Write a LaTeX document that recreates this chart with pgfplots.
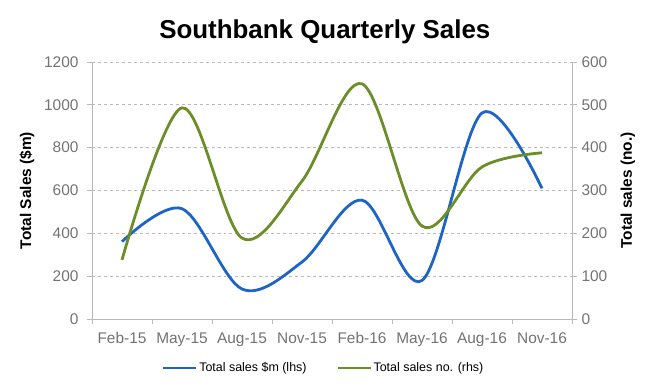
\documentclass[border=0pt]{standalone}
\usepackage{pgfplots}
\pgfplotsset{compat=1.18}
\usepackage{fontspec}
\setmainfont{Liberation Sans}
\definecolor{lblue}{RGB}{30,100,196}
\definecolor{lgreen}{RGB}{108,142,40}
\definecolor{axgray}{RGB}{185,185,185}
\definecolor{txtgray}{RGB}{115,115,115}
\begin{document}
\begin{tikzpicture}
\path[use as bounding box] (-92bp,-73bp) rectangle (558bp,319bp);
\pgfplotsset{
  every axis/.append style={
    scale only axis, width=480bp, height=257bp,
    at={(0,0)}, anchor=south west,
    xmin=-0.5, xmax=7.5,
    /pgf/number format/assume math mode=true,
    /pgf/number format/1000 sep={},
    tick label style={font=\fontsize{15.5}{18}\selectfont, text=txtgray},
    label style={font=\bfseries\fontsize{15.5}{18}\selectfont},
    axis line style={axgray, line width=0.8pt},
    tick style={axgray, line width=0.8pt},
    tick align=outside,
  }
}
\begin{axis}[
  axis x line*=bottom, axis y line*=left,
  ymin=0, ymax=1200, ytick={0,200,...,1200},
  ymajorgrids, grid style={axgray, dashed, line width=0.7pt},
  xtick={0,...,7},
  xticklabels={Feb-15,May-15,Aug-15,Nov-15,Feb-16,May-16,Aug-16,Nov-16},
  major x tick style={draw=none},
  minor xtick={-0.5,0.5,...,7.5},
  minor tick length=5bp,
  major tick length=5bp,
  xticklabel style={yshift=-5bp},
  yticklabel style={xshift=-5bp},
  ylabel={Total Sales (\$m)},
  ylabel style={at={(rel axis cs:0,0.5)}, rotate=0, anchor=center, yshift=65bp},
  title={Southbank Quarterly Sales},
  title style={font=\bfseries\fontsize{26}{30}\selectfont, at={(0.485,1)}, yshift=18bp, anchor=base},
]
\addplot[lblue, line width=2.8bp, smooth, tension=0.55] coordinates {
(0,361) (1,515) (2,140) (3,266) (4,555) (5,180) (6,962) (7,610)
};
\end{axis}
\begin{axis}[
  axis x line=none, axis y line*=right,
  ymin=0, ymax=600, ytick={0,100,...,600},
  major tick length=5bp,
  yticklabel style={xshift=1bp},
  ylabel={Total sales (no.)},
  ylabel style={at={(rel axis cs:1,0.5)}, anchor=center, yshift=-56bp},
  legend columns=2,
  legend style={draw=none, fill=none, at={(0.483,-0.19)}, anchor=center,
    font=\fontsize{12.5}{15}\selectfont, /tikz/every even column/.append style={column sep=28bp}},
  legend image code/.code={\draw[#1, line width=2bp] (0bp,0bp) -- (33bp,0bp);},
]
\addlegendimage{lblue}
\addlegendentry{Total sales \$m (lhs)}
\addplot[lgreen, line width=2.8bp, smooth, tension=0.55] coordinates {
(0,138) (1,493) (2,189) (3,322) (4,549) (5,217) (6,355) (7,388)
};
\addlegendentry{Total sales no. (rhs)}
\end{axis}
\end{tikzpicture}
\end{document}
